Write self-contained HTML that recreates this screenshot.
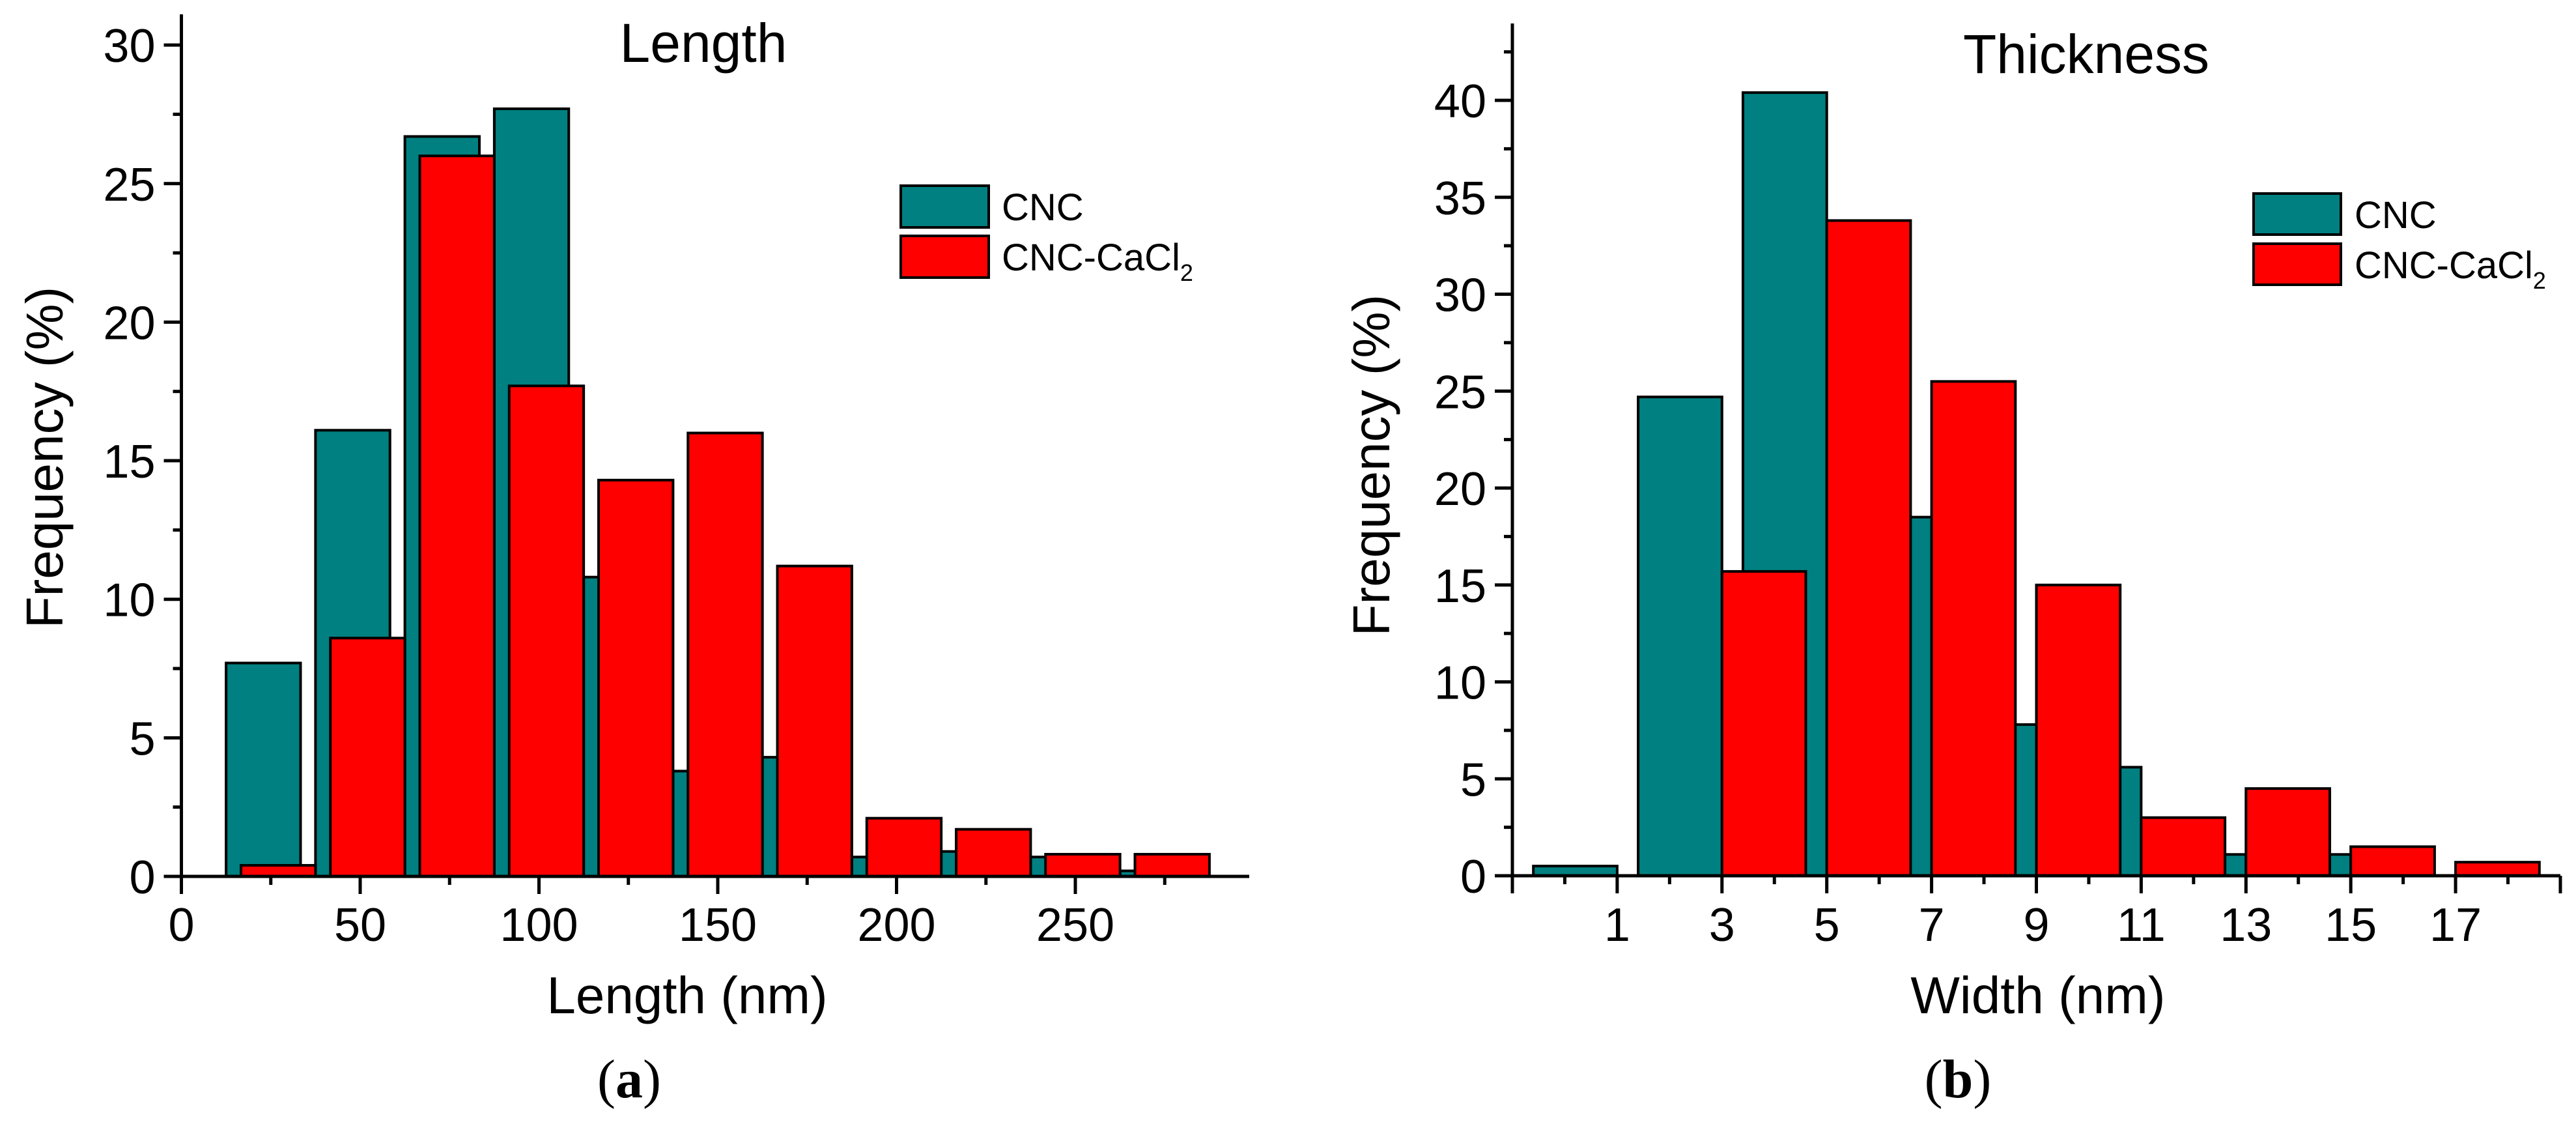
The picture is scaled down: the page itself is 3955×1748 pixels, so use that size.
<!DOCTYPE html>
<html><head><meta charset="utf-8"><style>
html,body{margin:0;padding:0;background:#fff;}
svg{display:block;font-family:"Liberation Sans",sans-serif;}
</style></head><body>
<svg id="fig" width="3955" height="1748" viewBox="0 0 3955 1748" xmlns="http://www.w3.org/2000/svg">
<g id="chartA"></g>
<g id="chartB"></g>
</svg>
<script>
// Length chart data
const lenCncValues = [7.7, 16.1, 26.7, 27.7, 10.8, 3.8, 4.3, 0.7, 0.9, 0.7, 0.2];
const lenCaValues = [0.4, 8.6, 26.0, 17.7, 14.3, 16.0, 11.2, 2.1, 1.7, 0.8, 0.8];
const lenXTicks = [0, 50, 100, 150, 200, 250];
const lenYTicks = [0, 5, 10, 15, 20, 25, 30];
// Thickness chart data
const thkCncValues = [0.5, 24.7, 40.4, 18.5, 7.8, 5.6, 1.1, 1.1];
const thkCaValues = [0, 15.7, 33.8, 25.5, 15.0, 3.0, 4.5, 1.5, 0.7];
const thkXTicks = [1, 3, 5, 7, 9, 11, 13, 15, 17];
const thkYTicks = [0, 5, 10, 15, 20, 25, 30, 35, 40];

const NS = "http://www.w3.org/2000/svg";
function mk(parent, tag, attrs, text) {
  const e = document.createElementNS(NS, tag);
  for (const k in attrs) e.setAttribute(k, attrs[k]);
  if (text !== undefined) e.textContent = text;
  parent.appendChild(e);
  return e;
}

function drawChart(g, cfg) {
  const sx = v => cfg.x0 + (v - cfg.xmin) * cfg.kx;
  const sy = v => cfg.y0 - v * cfg.ky;
  cfg.cnc.forEach((v, i) => {
    if (v <= 0) return;
    const c = cfg.cncStart + i * cfg.bin;
    const r = mk(g, 'rect', {x: sx(c), y: sy(v), width: sx(c + cfg.bw) - sx(c), height: sy(0) - sy(v), fill: '#008080', stroke: '#000', 'stroke-width': 4});
    
    
  });
  cfg.ca.forEach((v, i) => {
    if (v <= 0) return;
    const c = cfg.caStart + i * cfg.bin;
    const r = mk(g, 'rect', {x: sx(c), y: sy(v), width: sx(c + cfg.bw) - sx(c), height: sy(0) - sy(v), fill: '#ff0000', stroke: '#000', 'stroke-width': 4});
    
    
  });
  const ax = mk(g, 'path', {d: `M${cfg.x0} ${cfg.top} V${cfg.y0} H${cfg.xend}`, stroke: '#000', 'stroke-width': 5, fill: 'none'});
  
  
  let d = '';
  for (let v = cfg.xmin; v <= cfg.xTickEnd + 1e-9; v += cfg.xMinorStep) {
    const isMajor = Math.abs(((v - cfg.xMajorBase) / cfg.xMajorStep) - Math.round((v - cfg.xMajorBase) / cfg.xMajorStep)) < 1e-6;
    d += `M${sx(v)} ${cfg.y0} v${isMajor ? 27 : 13} `;
  }
  for (let v = 0; v <= cfg.ymaxTick + 1e-9; v += 2.5) {
    const isMajor = Math.abs(v / 5 - Math.round(v / 5)) < 1e-6;
    d += `M${cfg.x0} ${sy(v)} h${isMajor ? -27 : -13} `;
  }
  const tk = mk(g, 'path', {d: d, stroke: '#000', 'stroke-width': 5, fill: 'none'});
  
  
  cfg.xTicks.forEach(v => {
    const t = mk(g, 'text', {x: sx(v), y: 1444, 'font-size': 72, 'text-anchor': 'middle'}, String(v));
    
    
  });
  cfg.yTicks.forEach(v => {
    const t = mk(g, 'text', {x: cfg.x0 - 40, y: sy(v) + 26, 'font-size': 72, 'text-anchor': 'end'}, String(v));
    
    
  });
}

drawChart(document.getElementById('chartA'), {
  x0: 278.5, xmin: 0, kx: 5.49, y0: 1345, ky: 42.53, top: 22, xend: 1918,
  cnc: lenCncValues, ca: lenCaValues, cncStart: 12.5, caStart: 16.67, bin: 25, bw: 20.83,
  xTickEnd: 275, xMinorStep: 25, xMajorStep: 50, xMajorBase: 0, ymaxTick: 30,
  xTicks: lenXTicks, yTicks: lenYTicks
});
drawChart(document.getElementById('chartB'), {
  x0: 2322, xmin: -1, kx: 80.45, y0: 1344, ky: 29.75, top: 36, xend: 3931,
  cnc: thkCncValues, ca: thkCaValues, cncStart: -0.6, caStart: 1.0, bin: 2, bw: 1.6,
  xTickEnd: 19, xMinorStep: 1, xMajorStep: 2, xMajorBase: -1, ymaxTick: 42.5,
  xTicks: thkXTicks, yTicks: thkYTicks
});
</script>
<svg style="position:absolute;left:0;top:0" width="3955" height="1748" viewBox="0 0 3955 1748" font-family="Liberation Sans, sans-serif">
  <text x="1080" y="95" font-size="84" text-anchor="middle">Length</text>
  <text x="1055" y="1555" font-size="80" text-anchor="middle">Length (nm)</text>
  <text transform="translate(96,702) rotate(-90)" font-size="80" text-anchor="middle">Frequency (%)</text>
  <rect x="1383" y="285" width="135" height="64" fill="#008080" stroke="#000" stroke-width="4"/>
  <rect x="1383" y="362" width="135" height="64" fill="#ff0000" stroke="#000" stroke-width="4"/>
  <text x="1538" y="338" font-size="58">CNC</text>
  <text x="1538" y="415" font-size="58">CNC-CaCl<tspan font-size="36" dy="16">2</tspan></text>
  <text x="966" y="1684" font-size="84" text-anchor="middle" font-family="Liberation Serif, serif">(<tspan font-weight="bold">a</tspan>)</text>

  <text x="3203" y="112" font-size="84" text-anchor="middle">Thickness</text>
  <text x="3129" y="1555" font-size="80" text-anchor="middle">Width (nm)</text>
  <text transform="translate(2133,714) rotate(-90)" font-size="80" text-anchor="middle">Frequency (%)</text>
  <rect x="3460" y="297" width="134" height="63" fill="#008080" stroke="#000" stroke-width="4"/>
  <rect x="3460" y="374" width="134" height="63" fill="#ff0000" stroke="#000" stroke-width="4"/>
  <text x="3615" y="350" font-size="58">CNC</text>
  <text x="3615" y="427" font-size="58">CNC-CaCl<tspan font-size="36" dy="16">2</tspan></text>
  <text x="3006" y="1684" font-size="84" text-anchor="middle" font-family="Liberation Serif, serif">(<tspan font-weight="bold">b</tspan>)</text>
</svg>
</body></html>
